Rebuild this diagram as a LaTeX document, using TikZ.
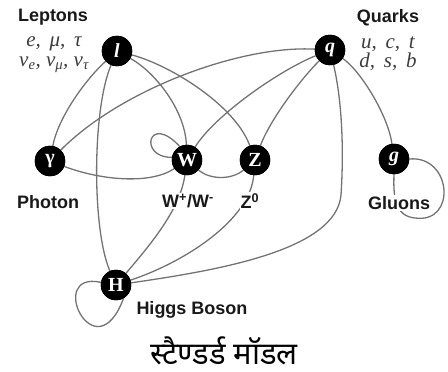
\documentclass[tikz,border=0pt]{standalone}
\usepackage{fontspec}
\setmainfont{Liberation Serif}
\newfontfamily\lblfont{Liberation Sans}
\newfontfamily\devfont[Script=Devanagari]{Noto Sans}
\definecolor{linkgray}{RGB}{115,115,115}
\definecolor{labelblack}{RGB}{25,25,25}
\definecolor{mathgray}{RGB}{60,60,60}
\tikzset{
  particle/.style={circle, fill=black, draw=black, minimum size=30pt, inner sep=0pt, text=white, font=\bfseries\fontsize{20}{20}\selectfont},
  link/.style={draw=linkgray, line width=1.3pt},
  lbl/.style={font=\lblfont\bfseries\fontsize{18}{20}\selectfont, text=labelblack, fill=white, inner sep=1pt},
  mlbl/.style={font=\itshape\fontsize{21}{23}\selectfont, text=mathgray, align=center, inner sep=0pt},
}
\begin{document}
\begin{tikzpicture}[x=1pt,y=-1pt]
\useasboundingbox (0,0) rectangle (448,372);
% particle nodes
\node[particle] (l)  at (117,51)  {\textit{l}};
\node[particle] (q)  at (330,50)  {\textit{q}};
\node[particle] (ga) at (50,161)  {γ};
\node[particle] (W)  at (187,160) {W};
\node[particle] (Z)  at (255,160) {Z};
\node[particle] (g)  at (394,159) {\textit{g}};
\node[particle] (H)  at (116,285) {H};
% connectors
\draw[link] (l) .. controls (85,80) and (58,118) .. (ga);
\draw[link] (l) .. controls (92,110) and (92,230) .. (H);
\draw[link] (l) .. controls (155,72) and (185,110) .. (W);
\draw[link] (l) .. controls (170,65) and (235,105) .. (Z);
\draw[link] (q) .. controls (240,45) and (120,90) .. (ga);
\draw[link] (ga) .. controls (100,180) and (150,185) .. (W);
\draw[link] (W.170) .. controls (138,158) and (148,112) .. (W.118);
\draw[link] (q) .. controls (280,70) and (215,115) .. (W);
\draw[link] (q) .. controls (300,80) and (270,120) .. (Z);
\draw[link] (q) .. controls (342,100) and (344,150) .. (341,195) .. controls (336,250) and (220,270) .. (H);
\draw[link] (q) .. controls (360,70) and (388,115) .. (g);
\draw[link] (W) .. controls (210,180) and (232,180) .. (Z);
\draw[link] (W) .. controls (180,210) and (150,245) .. (H);
\draw[link] (Z) .. controls (250,220) and (185,262) .. (H);
\draw[link] (g.0) .. controls (452,155) and (457,224) .. (415,218) .. controls (396,216) and (393,200) .. (g.270);
\draw[link] (H.170) .. controls (45,270) and (95,375) .. (H.300);
% redraw particles on top
\node[particle] at (l)  {\textit{l}};
\node[particle] at (q)  {\textit{q}};
\node[particle] at (ga) {γ};
\node[particle] at (W)  {W};
\node[particle] at (Z)  {Z};
\node[particle] at (g)  {\textit{g}};
\node[particle] at (H)  {H};
% labels
\node[lbl] (lep) at (53,17) {Leptons};
\node[mlbl] (lepm) at (54,44) {e,\, μ,\, τ};
\node[mlbl] (lepn) at (54,65) {ν\textsubscript{e}, ν\textsubscript{μ}, ν\textsubscript{τ}};
\node[lbl] (qua) at (388,18) {Quarks};
\node[mlbl] (quam) at (388,44) {u,\, c,\, t};
\node[mlbl] (quan) at (388,62) {d,\, s,\, b};
\node[lbl] (pho) at (48,202) {Photon};
\node[lbl] (wl) at (188,201) {W\textsuperscript{+}/W\textsuperscript{-}};
\node[lbl] (zl) at (250,201) {Z\textsuperscript{0}};
\node[lbl] (gl) at (399,203) {Gluons};
\node[lbl] (hl) at (192,310) {Higgs Boson};
\node[font=\devfont\fontsize{31}{32}\selectfont, text=black, inner sep=0pt, anchor=base] (title) at (224,364) {स्टैण्डर्ड मॉडल};
\end{tikzpicture}
\end{document}
